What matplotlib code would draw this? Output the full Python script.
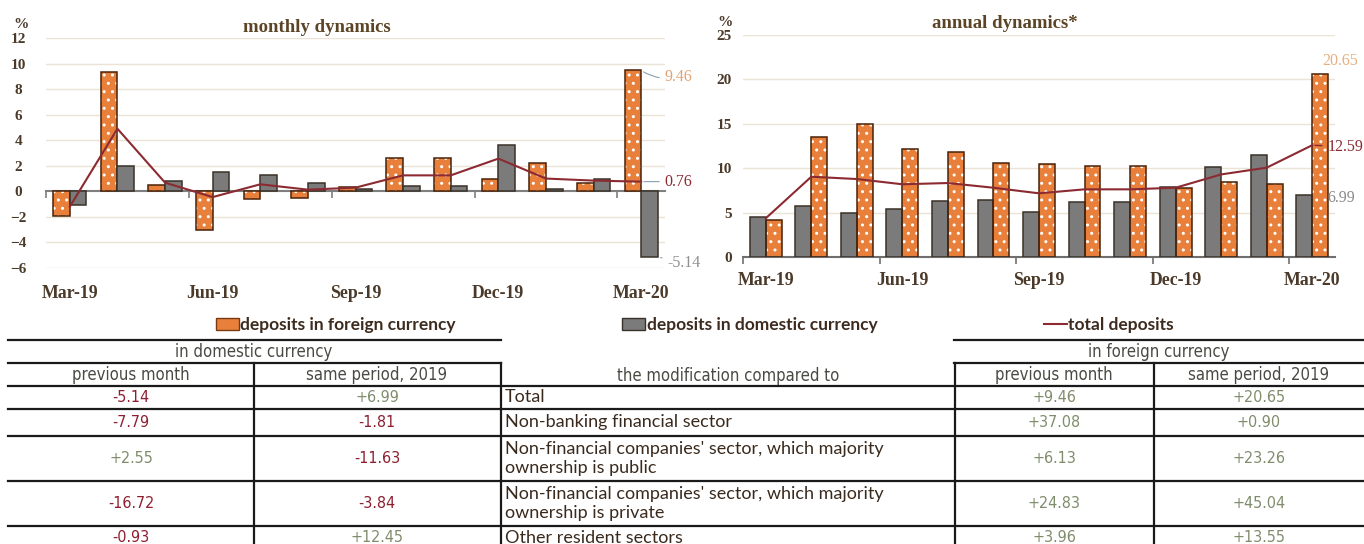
import numpy as np
import matplotlib
matplotlib.use("Agg")
import matplotlib.pyplot as plt
from matplotlib.patches import Patch
from matplotlib.lines import Line2D

months = ["Mar-19", "Apr-19", "May-19", "Jun-19", "Jul-19", "Aug-19", "Sep-19",
          "Oct-19", "Nov-19", "Dec-19", "Jan-20", "Feb-20", "Mar-20"]

# monthly dynamics, %
m_foreign = [-1.94, 9.36, 0.52, -3.06, -0.63, -0.50, 0.35, 2.59, 2.59, 1.00, 2.22, 0.65, 9.46]
m_domestic = [-1.10, 1.98, 0.78, 1.50, 1.25, 0.65, 0.15, 0.42, 0.42, 3.66, 0.15, 1.00, -5.14]
m_total = [-1.20, 4.90, 0.68, -0.45, 0.55, 0.13, 0.29, 1.25, 1.25, 2.56, 1.00, 0.84, 0.76]

# annual dynamics, %
a_domestic = [4.54, 5.78, 4.92, 5.40, 6.30, 6.45, 5.07, 6.16, 6.16, 7.85, 10.10, 11.49, 6.99]
a_foreign = [4.17, 13.55, 14.94, 12.16, 11.82, 10.59, 10.47, 10.28, 10.28, 7.75, 8.48, 8.19, 20.65]
a_total = [4.36, 9.04, 8.78, 8.19, 8.33, 7.80, 7.17, 7.62, 7.62, 7.80, 9.30, 10.06, 12.59]

# table
row_labels = ["Total",
              "Non-banking financial sector",
              "Non-financial companies' sector, which majority\nownership is public",
              "Non-financial companies' sector, which majority\nownership is private",
              "Other resident sectors"]
dom_prev = ["-5.14", "-7.79", "+2.55", "-16.72", "-0.93"]
dom_same = ["+6.99", "-1.81", "-11.63", "-3.84", "+12.45"]
for_prev = ["+9.46", "+37.08", "+6.13", "+24.83", "+3.96"]
for_same = ["+20.65", "+0.90", "+23.26", "+45.04", "+13.55"]

ORANGE = "#e8803c"
ORANGE_EDGE = "#4a2208"
GREY = "#7b7b7b"
GREY_EDGE = "#3a3128"
LINE = "#8c2a32"
TXT = "#4b3a2a"
GRID = "#ebe4d6"
NEG = "#8e1f30"
POS = "#7f8d6c"

SERIF = ["Liberation Serif", "DejaVu Serif"]
SANS = ["Lato", "DejaVu Sans"]

W, H = 1364, 544
fig = plt.figure(figsize=(W / 100, H / 100), dpi=100)


def box(l, t, r, b):
    return [l / W, 1 - b / H, (r - l) / W, (b - t) / H]


x = np.arange(len(months))
bw = 0.35


def dotted_bars(ax, pos, vals):
    ax.bar(pos, vals, bw, color=ORANGE, edgecolor="white", hatch="..", linewidth=0, zorder=2)
    ax.bar(pos, vals, bw, fill=False, edgecolor=ORANGE_EDGE, linewidth=1.1, zorder=3)


def plain_bars(ax, pos, vals):
    ax.bar(pos, vals, bw, color=GREY, edgecolor=GREY_EDGE, linewidth=1.1, zorder=3)


def style_axes(ax):
    for s in ax.spines.values():
        s.set_visible(False)
    ax.set_axisbelow(True)
    ax.grid(axis="y", color=GRID, linewidth=1)
    ax.set_xlim(-0.5, len(months) - 0.5)
    ax.set_xticks(x[::3], months[::3])
    ax.tick_params(axis="x", length=0, labelsize=12.8, labelcolor=TXT)
    for lbl in ax.get_xticklabels() + ax.get_yticklabels():
        lbl.set_family(SERIF)
        lbl.set_weight("bold")


# ---------- monthly ----------
ax1 = fig.add_axes(box(46, 38, 665, 268))
ymin, ymax = -6, 12
dotted_bars(ax1, x - bw / 2, m_foreign)
plain_bars(ax1, x + bw / 2, m_domestic)
ax1.plot(x, m_total, color=LINE, linewidth=1.5, zorder=4)
ax1.set_ylim(ymin, ymax)
ax1.set_yticks(range(-6, 13, 2))
style_axes(ax1)
ax1.tick_params(axis="x", pad=12)
ax1.tick_params(axis="y", length=0, pad=20, labelsize=11, labelcolor=TXT)
for lbl in ax1.get_yticklabels():
    lbl.set_ha("center")
ax1.yaxis.get_gridlines()[3].set_visible(False)

sec = ax1.secondary_xaxis((0 - ymin) / (ymax - ymin))
sec.set_xticks(np.arange(-0.5, 12, 3))
sec.tick_params(length=5, width=1.2, color="#7f7f7f", labelbottom=False, labeltop=False)
for s in sec.spines.values():
    s.set_color("#7f7f7f")
    s.set_linewidth(1.5)

last = len(months) - 1
ann = dict(textcoords="offset points", fontsize=11.5, family=SERIF, va="center")
lead = dict(arrowstyle="-", color="#8aa0b0", lw=0.8)
ax1.annotate("9.46", xy=(last, m_foreign[-1]), xytext=(17, -5), color="#e2a273",
             arrowprops=dict(lead, connectionstyle="arc3,rad=-0.2"), **ann)
ax1.annotate("0.76", xy=(last, m_total[-1]), xytext=(17, 0), color=LINE,
             arrowprops=lead, **ann)
ax1.annotate("-5.14", xy=(last + bw, m_domestic[-1]), xytext=(7, -4), color="#8f8f8f",
             arrowprops=lead, **ann)

# ---------- annual ----------
ax2 = fig.add_axes(box(743, 35, 1335, 257))
plain_bars(ax2, x - bw / 2, a_domestic)
dotted_bars(ax2, x + bw / 2, a_foreign)
ax2.plot(x, a_total, color=LINE, linewidth=1.5, zorder=4)
ax2.set_ylim(0, 25)
ax2.set_yticks(range(0, 26, 5))
style_axes(ax2)
ax2.spines["bottom"].set_visible(True)
ax2.spines["bottom"].set_color("#6f6f6f")
ax2.spines["bottom"].set_linewidth(1.5)
ax2.set_xticks(np.arange(-0.5, 12, 3), minor=True)
ax2.tick_params(axis="x", which="minor", length=5, width=1.2, color="#6f6f6f")
ax2.tick_params(axis="x", pad=11)
ax2.tick_params(axis="y", length=0, pad=8, labelsize=11, labelcolor=TXT)
ax2.annotate("20.65", xy=(last + bw / 2, a_foreign[-1]), xytext=(14, 9), color="#e6b080",
             ha="center", **ann)
ax2.annotate("12.59", xy=(last, a_total[-1]), xytext=(11, -1), color=LINE,
             arrowprops=dict(arrowstyle="-", color=LINE, lw=1), **ann)
ax2.annotate("6.99", xy=(last - bw / 2, a_domestic[-1]), xytext=(17, -2), color="#8a8a8a", **ann)

fig.text(21 / W, 1 - 24 / H, "%", ha="center", va="center", fontsize=11, color=TXT,
         family=SERIF, weight="bold")
fig.text(725 / W, 1 - 22 / H, "%", ha="center", va="center", fontsize=11, color=TXT,
         family=SERIF, weight="bold")
fig.text(317 / W, 1 - 27 / H, "monthly dynamics", ha="center", va="center", fontsize=13.5,
         color="#5b4526", family=SERIF, weight="bold")
fig.text(1005 / W, 1 - 23 / H, "annual dynamics*", ha="center", va="center", fontsize=13.5,
         color="#5b4526", family=SERIF, weight="bold")

# ---------- legend ----------
handles = [Patch(facecolor=ORANGE, edgecolor="#7a3a10"),
           Patch(facecolor=GREY, edgecolor=GREY_EDGE),
           Line2D([], [], color=LINE, linewidth=1.5)]
labels = ["deposits in foreign currency", "deposits in domestic currency", "total deposits"]
fig.legend(handles, labels, loc="center", bbox_to_anchor=(695 / W, 1 - 325 / H), ncol=3,
           frameon=False, handlelength=1.3, handleheight=0.65, handletextpad=0.1,
           columnspacing=9.6, labelcolor="#3d2b1f", prop=dict(family=SANS, size=12.5, weight="bold"))

# ---------- table ----------
ax_t = fig.add_axes([0, 0, 1, 1], zorder=-1)
ax_t.set_xlim(0, W)
ax_t.set_ylim(H, 0)
ax_t.axis("off")
ax_t.patch.set_visible(False)

lk = dict(color="#1a1a1a", linewidth=1.6)
for y in (340, 363):
    ax_t.plot([8, 501], [y, y], **lk)
    ax_t.plot([954, W], [y, y], **lk)
for y in (386, 409, 436, 481, 526):
    ax_t.plot([8, W], [y, y], **lk)
for xv in (254, 501, 955, 1154):
    ax_t.plot([xv, xv], [363, H], **lk)

hk = dict(ha="center", va="center", fontsize=12, color="#4a4a44", family="DejaVu Sans",
          stretch="condensed", weight="light")
ax_t.text(254, 352, "in domestic currency", **hk)
ax_t.text(1159, 352, "in foreign currency", **hk)
ax_t.text(131, 375, "previous month", **hk)
ax_t.text(377, 375, "same period, 2019", **hk)
ax_t.text(728, 376, "the modification compared to", **hk)
ax_t.text(1054, 375, "previous month", **hk)
ax_t.text(1259, 375, "same period, 2019", **hk)

row_y = [397.5, 422.5, 458.5, 503.5, 538]
cols = [(131, dom_prev), (377, dom_same), (1054, for_prev), (1259, for_same)]
for i, yv in enumerate(row_y):
    ax_t.text(505, yv, row_labels[i], ha="left", va="center", fontsize=13, color="#3a2a1e",
              family=SANS, linespacing=1.3)
    for xc, vals in cols:
        v = vals[i]
        ax_t.text(xc, yv, v, ha="center", va="center", fontsize=11.5, family="DejaVu Sans",
                  stretch="condensed", color=NEG if v.startswith("-") else POS)

fig.savefig("out.png", dpi=100, facecolor="white")
